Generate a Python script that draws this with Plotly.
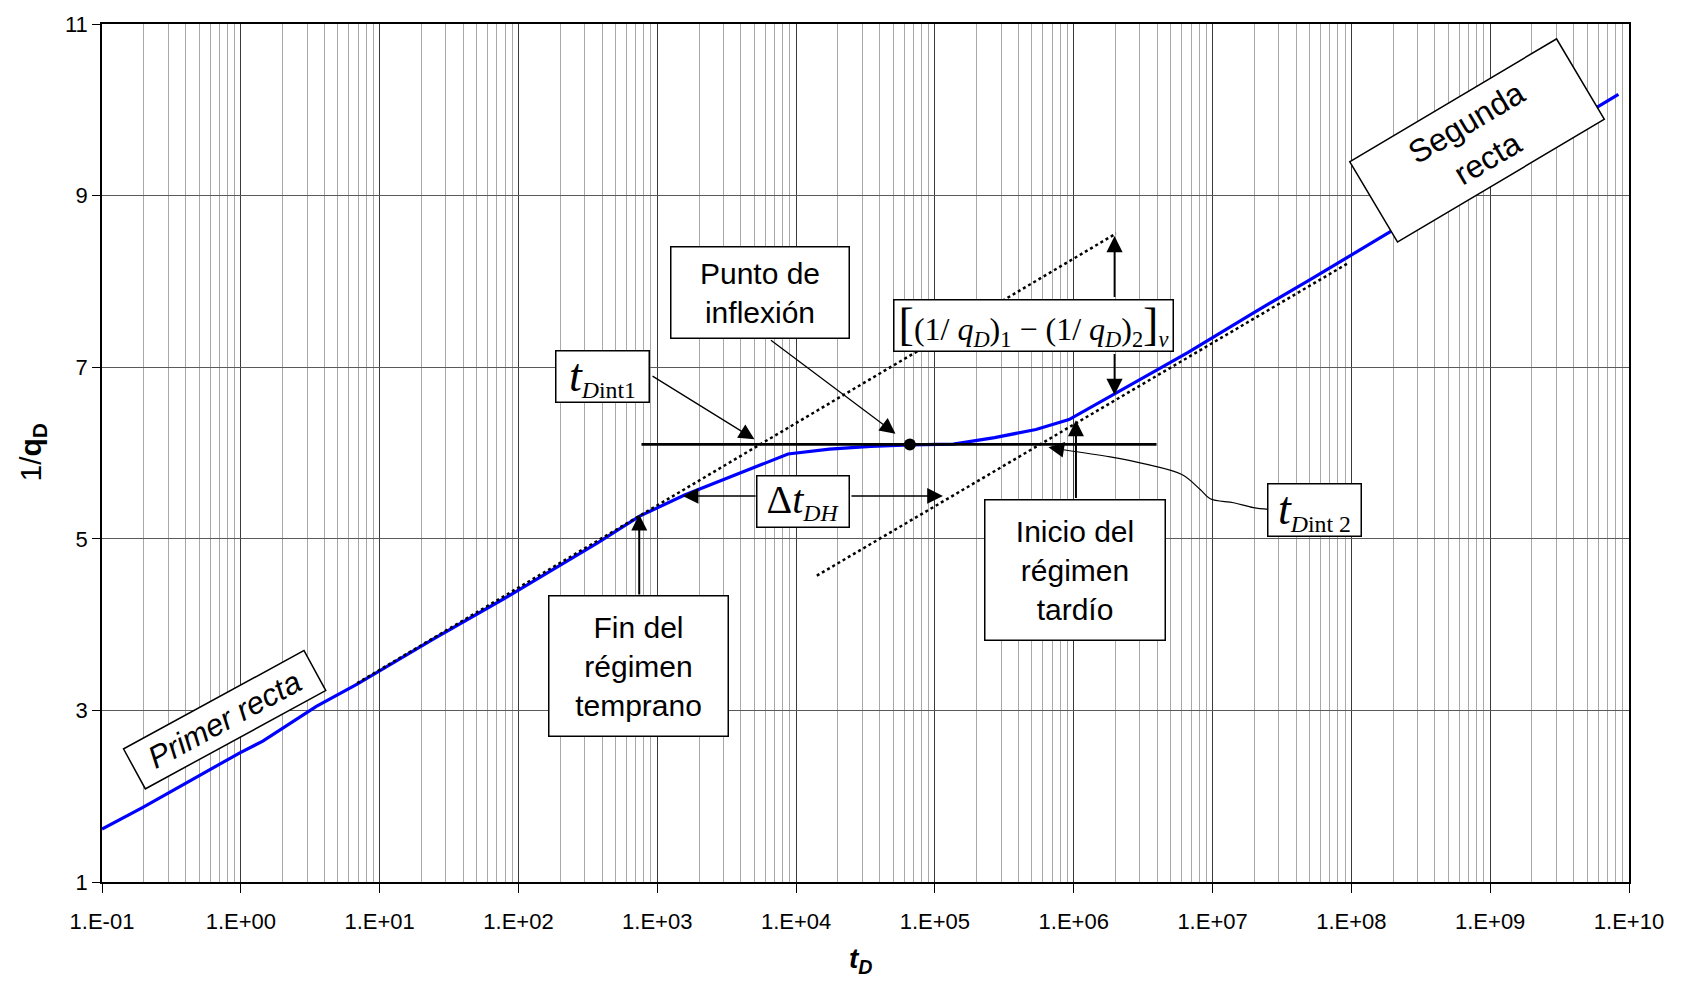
import plotly.graph_objects as go

# ---------------- data ----------------
t_D = [0.1, 0.197, 0.984, 1.44, 3.50, 6.89, 24.5, 80.2, 374, 741, 1574, 3589,
       7638, 8750, 17380, 34440, 66070, 135800, 269200, 534600, 924700,
       2.10e6, 6.67e6, 2.0e7, 5.05e7, 1.91e8, 7.94e8, 8.39e9]
inv_qD = [1.618, 1.869, 2.506, 2.641, 3.046, 3.305, 3.835, 4.310, 4.955, 5.262,
          5.510, 5.739, 5.942, 5.988, 6.046, 6.077, 6.095, 6.103, 6.180, 6.274,
          6.390, 6.715, 7.174, 7.64, 8.02, 8.58, 9.18, 10.18]

line1_t = [6.89, 2.02e6]          # first straight line (dotted)
line1_v = [3.317, 8.559]
line2_t = [1.41e4, 9.66e7]        # second straight line (dotted)
line2_v = [4.57, 8.22]
horiz_t = [770, 3.95e6]           # horizontal tangent at inflection
horiz_v = [6.10, 6.10]
inflex_t = [6.6e4]                # inflection point
inflex_v = [6.10]
conn_t = [2.53e7, 1.97e7, 1.42e7, 9.62e6, 8.15e6, 6.01e6, 3.18e6, 1.83e6, 8.43e5]
conn_v = [5.343, 5.363, 5.420, 5.467, 5.575, 5.749, 5.876, 5.954, 6.038]

x_tickvals = [1e-1, 1e0, 1e1, 1e2, 1e3, 1e4, 1e5, 1e6, 1e7, 1e8, 1e9, 1e10]
x_ticktext = ["1.E-01", "1.E+00", "1.E+01", "1.E+02", "1.E+03", "1.E+04",
              "1.E+05", "1.E+06", "1.E+07", "1.E+08", "1.E+09", "1.E+10"]
y_tickvals = [1, 3, 5, 7, 9, 11]
y_ticktext = ["1", "3", "5", "7", "9", "11"]

SANS = "Liberation Sans, Arial, sans-serif"
SERIF = "Liberation Serif, Times New Roman, serif"

minor_vals = [m * 10.0 ** e for e in range(-1, 10) for m in range(2, 10)]

fig = go.Figure()
fig.add_trace(go.Scatter(x=t_D, y=inv_qD, mode="lines",
                         line=dict(color="#0000FF", width=3.2), hoverinfo="skip"))
fig.add_trace(go.Scatter(x=line1_t, y=line1_v, mode="lines",
                         line=dict(color="black", width=2.5, dash="3px,3px")))
fig.add_trace(go.Scatter(x=line2_t, y=line2_v, mode="lines",
                         line=dict(color="black", width=2.5, dash="3px,3px")))
fig.add_trace(go.Scatter(x=horiz_t, y=horiz_v, mode="lines",
                         line=dict(color="black", width=2.8)))
fig.add_trace(go.Scatter(x=inflex_t, y=inflex_v, mode="markers",
                         marker=dict(color="black", size=12)))
fig.add_trace(go.Scatter(x=conn_t, y=conn_v, mode="lines",
                         line=dict(color="black", width=1.2, shape="spline")))

annotations = []

# ---------------- arrows (log10 t, value) ----------------
arrows = [
    # head_x, head_y, tail_x, tail_y, width, size
    (3.70, 6.16, 2.955, 6.907, 1.3, 2.4),    # t_Dint1
    (4.716, 6.225, 3.808, 7.326, 1.3, 2.4),  # punto de inflexion
    (6.294, 8.53, 6.294, 7.80, 1.8, 1.8),    # bracket up
    (6.294, 6.676, 6.294, 7.17, 1.8, 1.8),   # bracket down
    (3.183, 5.50, 3.719, 5.50, 1.5, 2.1),    # delta t left
    (5.058, 5.50, 4.388, 5.50, 1.5, 2.1),    # delta t right
    (2.870, 5.282, 2.870, 4.332, 2.0, 1.6),  # fin regimen temprano
    (6.016, 6.383, 6.016, 5.459, 2.0, 1.6),  # inicio regimen tardio
    (5.818, 6.066, 5.926, 6.038, 1.3, 2.4),  # t_Dint2
]
for hx, hy, tx, ty, w, s in arrows:
    annotations.append(dict(x=hx, y=hy, ax=tx, ay=ty, xref="x", yref="y",
                            axref="x", ayref="y", text="", showarrow=True,
                            arrowhead=2, arrowsize=s, arrowwidth=w,
                            arrowcolor="black", standoff=0, startstandoff=0))

# ---------------- boxed labels ----------------
def box(x, y, text, w, h, font, size, angle=0):
    annotations.append(dict(x=x, y=y, xref="x", yref="y", text=text,
                            showarrow=False, xanchor="center", yanchor="middle",
                            width=w, height=h, borderpad=0, bgcolor="white",
                            bordercolor="black", borderwidth=1.5, textangle=angle,
                            font=dict(family=font, size=size, color="black")))

box(3.740, 7.874, "Punto de<br>inflexión", 177, 90, SANS, 30)
box(2.866, 3.516, "Fin del<br>régimen<br>temprano", 178, 139, SANS, 30)
box(6.008, 4.636, "Inicio del<br>régimen<br>tardío", 179, 139, SANS, 30)
box(2.609, 6.892,
    "<span style='font-size:46px'><i>t</i></span><sub><i>D</i>int1</sub>",
    92, 50, SERIF, 34)
box(7.738, 5.340,
    "<span style='font-size:46px'><i>t</i></span><sub><i>D</i>int 2</sub>",
    92, 51, SERIF, 34)
box(4.050, 5.432,
    "<span style='font-size:40px'>Δ<i>t</i></span><sub><i>DH</i></sub>",
    91, 50, SERIF, 34)
box(5.712, 7.487,
    "<span style='font-size:46px'>[</span>(1/ <i>q</i><sub><i>D</i></sub>)<sub>1</sub>"
    " − (1/ <i>q</i><sub><i>D</i></sub>)<sub>2</sub>"
    "<span style='font-size:46px'>]</span><sub><i>v</i></sub>",
    278, 50, SERIF, 32)
box(-0.114, 2.896, "<i>Primer recta</i>", 204, 44, SANS, 31, angle=-28.6)
box(8.905, 9.643, "Segunda<br>recta", 239, 92, SANS, 32, angle=-30.7)

# ---------------- axis titles ----------------
annotations.append(dict(x=0.4964, y=-0.092, xref="paper", yref="paper",
                        text="<b><i>t</i></b><sub><b><i>D</i></b></sub>",
                        showarrow=False, xanchor="center", yanchor="middle",
                        font=dict(family=SANS, size=28, color="black")))
annotations.append(dict(x=-0.0458, y=0.5006, xref="paper", yref="paper",
                        text="1/<b>q</b><sub><b>D</b></sub>", textangle=-90,
                        showarrow=False, xanchor="center", yanchor="middle",
                        font=dict(family=SANS, size=30, color="black")))

fig.update_layout(
    width=1686, height=982,
    margin=dict(l=102, r=57, t=18, b=100),
    plot_bgcolor="white", paper_bgcolor="white",
    showlegend=False,
    annotations=annotations,
    xaxis=dict(type="log", range=[-1, 10], tickmode="array",
               tickvals=x_tickvals, ticktext=x_ticktext,
               ticks="outside", ticklen=9, tickcolor="black", tickwidth=1,
               showgrid=True, gridcolor="#3a3a3a", gridwidth=1,
               showline=True, linecolor="black", linewidth=1.5, mirror=True,
               zeroline=False, ticklabelstandoff=10,
               tickfont=dict(family=SANS, size=22, color="black"),
               minor=dict(tickmode="array", tickvals=minor_vals, showgrid=True,
                          gridcolor="#a8a8a8", gridwidth=1, ticks="")),
    yaxis=dict(range=[1, 11], tickmode="array", tickvals=y_tickvals,
               ticktext=y_ticktext, ticks="outside", ticklen=8,
               tickcolor="black", tickwidth=1,
               showgrid=True, gridcolor="#5a5a5a", gridwidth=1,
               showline=True, linecolor="black", linewidth=1.5, mirror=True,
               zeroline=False,
               tickfont=dict(family=SANS, size=22, color="black")),
)

fig.write_html("out.html")
